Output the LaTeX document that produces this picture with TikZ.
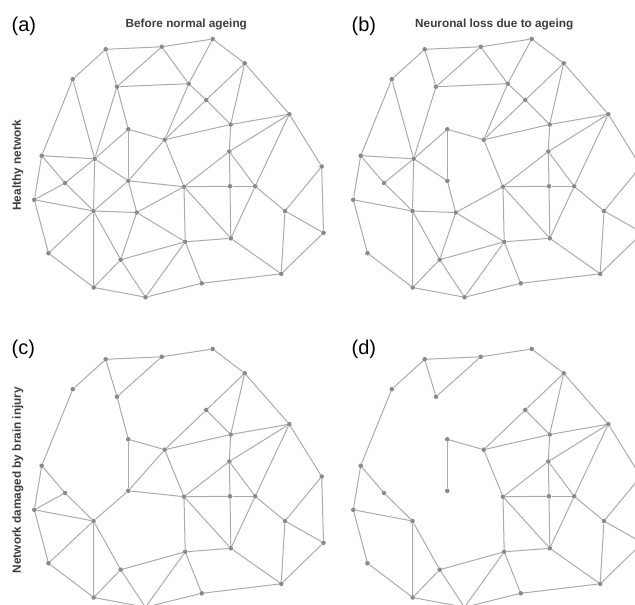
\documentclass[tikz,border=0pt]{standalone}
\usepackage{fontspec}
\setmainfont{Liberation Sans}

\definecolor{nodegray}{HTML}{8A8A8A}
\definecolor{linegray}{HTML}{ABABAB}
\definecolor{inkgray}{HTML}{3C3C3C}

% neuron positions of one network (px), 7, 15 and 24 are lost after the injury
\newcommand{\neuronskept}{1/105.7/49.3, 2/161.7/46.8, 3/212.7/39, 4/244.7/63.3,
  5/72.8/79.2, 6/117/86.7, 8/206.2/100, 9/289.3/114.2, 10/230.7/124.5,
  11/128.3/129.3, 12/164.7/139.7, 13/229.3/151.5, 14/41.7/155.7, 16/321.7/166.5,
  17/65/183, 18/128.3/180.8, 19/184/186.7, 20/230/186.3, 21/255.2/186.3,
  22/34.3/199.8, 23/93.5/211, 25/285/211, 26/323.5/232.8, 27/185.2/241.8,
  28/230.8/238.3, 29/48.5/253.2, 30/120.7/259.7, 31/281.2/273.8, 32/93.7/287.5,
  33/201.7/283.3, 34/145.5/297.2}
\newcommand{\neuronslost}{7/188.7/83.7, 15/94.7/158.8, 24/136.7/212.5}

% links
\newcommand{\linkscommon}{1/2, 2/3, 1/5, 1/6, 2/6, 3/4, 4/8, 4/10, 4/9, 8/10,
  8/12, 12/10, 10/9, 5/14, 11/12, 11/18, 12/19, 9/13, 9/21, 9/16, 10/13, 13/19,
  13/20, 13/21, 14/17, 14/22, 17/23, 22/23, 22/29, 19/20, 20/21, 19/27, 19/28,
  20/28, 21/28, 21/25, 16/25, 16/26, 25/26, 25/31, 26/31, 28/31, 27/28, 23/30,
  23/32, 29/32, 30/32, 30/34, 30/27, 27/34, 27/33, 32/34, 34/33, 33/31}
\newcommand{\linksageing}{6/11, 12/18, 17/22, 18/23, 18/19, 23/29}
\newcommand{\linksinjury}{2/7, 3/7, 6/7, 7/8, 7/12, 5/15, 6/15, 11/15, 14/15,
  15/17, 15/23, 15/18, 18/24, 23/24, 24/19, 24/27, 24/30}

\tikzset{
  neuron/.style={circle,fill=nodegray,inner sep=0pt,minimum size=4.6pt},
  link/.style={draw=linegray,line width=1pt},
  panel/.style={font=\fontsize{20}{24}\selectfont,text=black,inner sep=0pt,anchor=base west},
  heading/.style={font=\fontsize{11.8}{14}\selectfont\bfseries,text=inkgray,inner sep=0pt,anchor=base}
}

\begin{document}
\begin{tikzpicture}[x=1pt,y=-1pt]
\useasboundingbox (0,0) rectangle (635,605);
\clip (0,0) rectangle (635,605);

% (a) before normal ageing
\foreach \i/\x/\y in \neuronskept {\node[neuron] (a\i) at (\x,\y) {};}
\foreach \i/\x/\y in \neuronslost {\node[neuron] (a\i) at (\x,\y) {};}
\foreach \u/\v in \linkscommon {\draw[link] (a\u) -- (a\v);}
\foreach \u/\v in \linksageing {\draw[link] (a\u) -- (a\v);}
\foreach \u/\v in \linksinjury {\draw[link] (a\u) -- (a\v);}

% (b) neuronal loss due to ageing
\begin{scope}[shift={(319,0)}]
\foreach \i/\x/\y in \neuronskept {\node[neuron] (b\i) at (\x,\y) {};}
\foreach \i/\x/\y in \neuronslost {\node[neuron] (b\i) at (\x,\y) {};}
\foreach \u/\v in \linkscommon {\draw[link] (b\u) -- (b\v);}
\foreach \u/\v in \linksinjury {\draw[link] (b\u) -- (b\v);}
\end{scope}

% (c) brain injury
\begin{scope}[shift={(0,310)}]
\foreach \i/\x/\y in \neuronskept {\node[neuron] (c\i) at (\x,\y) {};}
\foreach \u/\v in \linkscommon {\draw[link] (c\u) -- (c\v);}
\foreach \u/\v in \linksageing {\draw[link] (c\u) -- (c\v);}
\end{scope}

% (d) both
\begin{scope}[shift={(319,310)}]
\foreach \i/\x/\y in \neuronskept {\node[neuron] (d\i) at (\x,\y) {};}
\foreach \u/\v in \linkscommon {\draw[link] (d\u) -- (d\v);}
\end{scope}

\node[panel] (taga) at (11.5,31) {(a)};
\node[panel] (tagb) at (351.5,31) {(b)};
\node[panel] (tagc) at (11.5,354) {(c)};
\node[panel] (tagd) at (351.5,354) {(d)};

\node[heading] (heada) at (186.3,27.3) {Before normal ageing};
\node[heading] (headb) at (494.2,27.3) {Neuronal loss due to ageing};
\node[heading,rotate=90] (rowhealthy) at (20.8,165) {Healthy network};
\node[heading,rotate=90] (rowinjury) at (20.8,480) {Network damaged by brain injury};
\end{tikzpicture}
\end{document}
